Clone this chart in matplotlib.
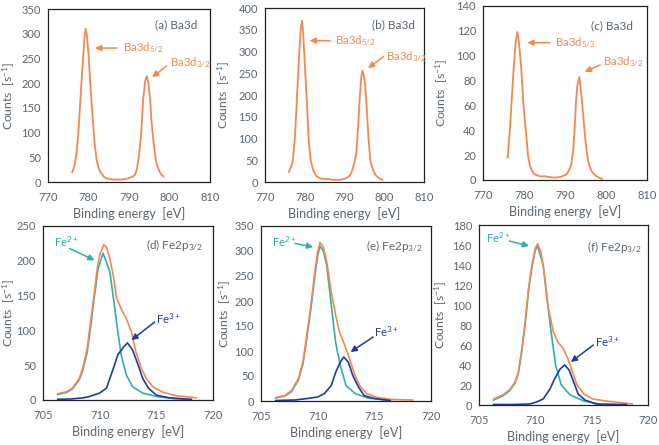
import matplotlib
matplotlib.use("Agg")
import matplotlib.pyplot as plt

plt.rcParams["font.family"] = ["Lato", "DejaVu Sans"]
plt.rcParams["mathtext.fontset"] = "custom"
plt.rcParams["mathtext.rm"] = "Lato"
plt.rcParams["mathtext.it"] = "Lato:italic"
plt.rcParams["mathtext.bf"] = "Lato:bold"

ORANGE = "#F5884F"
CYAN = "#2DB0B0"
BLUE = "#1F3AA6"
GREY = "#5A6670"

# --- Ba3d spectra (a), (b), (c)
ba_a_e = [776.0, 776.5, 777.0, 777.5, 778.0, 778.5, 779.0, 779.3, 779.6, 780.0, 780.5, 781.0,
          781.5, 782.0, 782.5, 783.0, 784.0, 785.0, 786.0, 787.0, 788.0, 789.0, 790.0, 791.0,
          791.5, 792.0, 792.5, 793.0, 793.5, 794.0, 794.4, 794.8, 795.2, 795.6, 796.0, 796.5,
          797.0, 797.5, 798.0, 798.5]
ba_a_c = [20, 32, 55, 100, 167, 232, 292, 310, 298, 258, 192, 132,
          80, 45, 28, 19, 9, 6, 5, 5, 5, 6, 8, 11,
          15, 28, 55, 99, 167, 205, 214, 200, 167, 118, 85, 50,
          32, 22, 15, 11]

ba_b_e = [776.0, 776.5, 777.0, 777.5, 778.0, 778.5, 779.0, 779.3, 779.6, 780.0, 780.5, 781.0,
          781.5, 782.0, 782.5, 783.0, 784.0, 785.0, 786.0, 787.0, 788.0, 789.0, 790.0, 791.0,
          791.5, 792.0, 792.5, 793.0, 793.5, 793.8, 794.2, 794.5, 794.8, 795.2, 795.6, 796.0,
          796.5, 797.0, 797.5, 798.0, 798.5, 799.0, 799.5]
ba_b_c = [23, 33, 50, 100, 185, 280, 352, 371, 345, 272, 189, 95,
          50, 30, 20, 13, 8, 7, 7, 5, 5, 5, 7, 12,
          17, 28, 45, 68, 140, 189, 240, 256, 248, 225, 170, 105,
          50, 32, 21, 14, 10, 7, 5]

ba_c_e = [776.0, 776.5, 777.0, 777.5, 778.0, 778.4, 778.8, 779.3, 779.8, 780.2, 780.5, 781.0,
          781.5, 782.0, 782.5, 783.0, 784.0, 785.0, 786.0, 787.0, 788.0, 789.0, 790.0, 790.5,
          791.0, 791.5, 792.0, 792.3, 792.7, 793.0, 793.5, 794.0, 794.5, 794.8, 795.2, 795.6,
          796.0, 796.5, 797.0, 797.5, 798.0, 798.5, 799.0]
ba_c_c = [18, 38, 64, 91, 112, 119, 110, 91, 64, 48, 38, 19,
          11, 7, 5, 4, 3, 3, 2.5, 2, 2, 2.5, 4, 5,
          8, 12, 24, 38, 64, 76, 83, 68, 50, 38, 25, 16,
          11, 7, 5, 3.5, 2.5, 1.5, 1]

# --- Fe2p3/2 spectra (d), (e), (f): total (orange), Fe2+ (cyan), Fe3+ (blue)
fe_d_tot_e = [706.3, 707.1, 707.6, 708.2, 708.5, 708.9, 709.2, 709.5, 709.8, 710.0, 710.35, 710.6,
              710.9, 711.2, 711.5, 711.9, 712.35, 712.8, 713.2, 713.7, 714.1, 714.7, 715.6, 716.8,
              718.1, 718.5]
fe_d_tot_c = [9, 12, 17, 31, 45, 74, 112, 150, 191, 208, 223, 220,
              203, 179, 146, 131, 117, 98, 69, 45, 31, 19, 11, 6,
              4, 3]
fe_d_2_e = [706.3, 707.1, 707.6, 708.2, 708.5, 708.9, 709.2, 709.5, 709.85, 710.3, 710.9, 711.3,
            711.6, 711.9, 712.35, 712.9, 713.8, 715.0, 716.5, 717.6]
fe_d_2_c = [8, 11, 16, 29, 42, 69, 105, 144, 188, 211, 184, 136,
            98, 65, 36, 19, 10, 5, 2, 1]
fe_d_3_e = [706.3, 707.5, 708.5, 709.1, 710.0, 710.6, 711.2, 711.6, 712.1, 712.45, 712.9, 713.4,
            713.8, 714.3, 715.0, 716.2, 718.1]
fe_d_3_c = [1, 1.5, 3, 5, 10, 17, 45, 65, 76, 82, 72, 50,
            31, 17, 7, 3, 1]

fe_e_tot_e = [706.3, 707.1, 707.7, 708.3, 708.7, 709.0, 709.4, 709.75, 710.0, 710.2, 710.5, 710.8,
              711.2, 711.6, 711.9, 712.4, 712.8, 713.3, 713.7, 714.3, 715.3, 716.5, 718.4]
fe_e_tot_c = [7, 11, 21, 45, 78, 125, 191, 258, 298, 317, 308, 278,
              218, 170, 140, 111, 85, 51, 31, 15, 7, 3, 2]
fe_e_2_e = [706.3, 707.1, 707.7, 708.3, 708.7, 709.0, 709.4, 709.75, 710.0, 710.2, 710.5, 710.8,
            711.2, 711.6, 712.0, 712.5, 713.3, 714.4, 716.4]
fe_e_2_c = [6, 10, 19, 42, 74, 119, 184, 250, 290, 310, 300, 271,
            192, 115, 71, 31, 15, 6, 1]
fe_e_3_e = [706.3, 708.0, 709.1, 710.0, 710.6, 711.2, 711.6, 712.0, 712.3, 712.7, 713.1, 713.6,
            714.1, 715.0, 716.4]
fe_e_3_c = [1, 2, 5, 8, 15, 31, 58, 78, 88, 78, 51, 28,
            11, 5, 1]

fe_f_tot_e = [706.3, 707.1, 707.7, 708.2, 708.5, 708.8, 709.1, 709.4, 709.7, 710.0, 710.2, 710.5,
              710.85, 711.1, 711.6, 712.0, 712.5, 712.9, 713.2, 713.7, 714.3, 715.1, 716.3, 718.6]
fe_f_tot_c = [6, 10, 15, 23, 33, 56, 83, 117, 140, 157, 161, 153,
              127, 100, 73, 63, 56, 46, 36, 20, 11, 6, 4, 1]
fe_f_2_e = [706.3, 707.1, 707.7, 708.2, 708.5, 708.8, 709.1, 709.4, 709.7, 710.0, 710.2, 710.7,
            711.0, 711.4, 711.8, 712.3, 713.1, 714.3, 715.7]
fe_f_2_c = [5, 9, 14, 22, 32, 54, 81, 115, 138, 155, 159, 140,
            110, 73, 40, 20, 10, 4, 1]
fe_f_3_e = [706.3, 708.0, 709.5, 710.1, 710.7, 711.3, 711.7, 712.2, 712.6, 713.0, 713.4, 713.8,
            714.4, 715.4, 718.1]
fe_f_3_c = [0.5, 0.5, 1, 3, 6, 16, 26, 36, 40, 35, 23, 11,
            5, 1, 0.5]

W, H = 659, 445
fig = plt.figure(figsize=(W / 100, H / 100), dpi=100)


def make_axes(x0, y0, x1, y1, ylab_x):
    ax = fig.add_axes([x0 / W, 1 - y1 / H, (x1 - x0) / W, (y1 - y0) / H])
    for s in ax.spines.values():
        s.set_color("#222222")
        s.set_linewidth(0.9)
    ax.tick_params(length=0, labelsize=8, labelcolor=GREY)
    ax.tick_params(axis="x", pad=7)
    ax.tick_params(axis="y", pad=5)
    ax.set_xlabel("Binding energy  [eV]", fontsize=9, color=GREY, labelpad=3)
    ax.set_ylabel("Counts  [s$^{-1}$]", fontsize=8.7, color=GREY)
    # ylabel anchor is its right edge (text bottom before rotation)
    ax.yaxis.set_label_coords((ylab_x - x0) / (x1 - x0), 0.5)
    return ax


def arrow(ax, text, xy, xytext, color, textpos=None, ha="left"):
    ax.annotate("", xy=xy, xytext=xytext,
                arrowprops=dict(arrowstyle="-|>", color=color, lw=1.1,
                                mutation_scale=9, shrinkA=0, shrinkB=0))
    if text:
        ax.text(textpos[0], textpos[1], text, color=color, fontsize=8.2,
                ha=ha, va="center")


# top row: Ba3d
ba_panels = [
    ((48, 9, 210, 182), 17, ba_a_e, ba_a_c, 350, "(a) Ba3d",
     (796.5, 318), (781.6, 271), (787.0, 271), (788.5, 271),
     (795.7, 212), (799.3, 235), (800.1, 242)),
    ((265, 8, 424, 182), 232, ba_b_e, ba_b_c, 400, "(b) Ba3d",
     (796.9, 361), (781.2, 325), (786.4, 325), (787.6, 325),
     (795.9, 262), (799.8, 288), (800.4, 288)),
    ((483, 6, 647, 180), 450, ba_c_e, ba_c_c, 140, "(c) Ba3d",
     (796.4, 124), (780.8, 110.5), (786.3, 110.5), (787.5, 110.5),
     (794.8, 87), (798.6, 92.6), (799.2, 95)),
]
for (box, ylx, xe, yc, ymax, title, tpos, h1, t1, p1, h2, t2, p2) in ba_panels:
    ax = make_axes(*box, ylx)
    ax.plot(xe, yc, color=ORANGE, lw=1.3)
    ax.set_xlim(770, 810)
    ax.set_ylim(0, ymax)
    ax.set_xticks(range(770, 811, 10))
    ax.set_yticks(range(0, ymax + 1, 50 if ymax > 200 else 20))
    ax.text(tpos[0], tpos[1], title, fontsize=8.5, color=GREY, va="center")
    arrow(ax, "Ba3d$_{5/2}$", h1, t1, ORANGE, p1)
    arrow(ax, "Ba3d$_{3/2}$", h2, t2, ORANGE, p2)

# bottom row: Fe2p3/2
fe_panels = [
    ((43, 226, 213, 400), 17, fe_d_tot_e, fe_d_tot_c, fe_d_2_e, fe_d_2_c, fe_d_3_e, fe_d_3_c,
     250, 50, "(d) Fe2p$_{3/2}$", (714.1, 222),
     (707.06, 227), (709.56, 200.8), (707.35, 217.5),
     (715.0, 117), (712.8, 86), (714.85, 112)),
    ((261, 226, 431, 401), 233, fe_e_tot_e, fe_e_tot_c, fe_e_2_e, fe_e_2_c, fe_e_3_e, fe_e_3_c,
     350, 50, "(e) Fe2p$_{3/2}$", (714.3, 310),
     (707.1, 318), (709.6, 308), (708.0, 315),
     (715.0, 138), (712.9, 98), (714.9, 128)),
    ((479, 225, 648, 405), 449, fe_f_tot_e, fe_f_tot_c, fe_f_2_e, fe_f_2_c, fe_f_3_e, fe_f_3_c,
     180, 20, "(f) Fe2p$_{3/2}$", (714.55, 158),
     (706.7, 167), (709.45, 159), (707.7, 164),
     (715.3, 63), (713.15, 43), (715.15, 60)),
]
for (box, ylx, te, tc, e2, c2, e3, c3, ymax, ystep, title, tpos,
     p2, h2, t2, p3, h3, t3) in fe_panels:
    ax = make_axes(*box, ylx)
    ax.plot(e2, c2, color=CYAN, lw=1.2)
    ax.plot(te, tc, color=ORANGE, lw=1.2)
    ax.plot(e3, c3, color=BLUE, lw=1.2)
    ax.set_xlim(705, 720)
    ax.set_ylim(0, ymax)
    ax.set_xticks(range(705, 721, 5))
    ax.set_yticks(range(0, ymax + 1, ystep))
    ax.text(tpos[0], tpos[1], title, fontsize=8.5, color=GREY, va="center")
    arrow(ax, "Fe$^{2+}$", h2, t2, CYAN, p2, ha="center")
    arrow(ax, "Fe$^{3+}$", h3, t3, BLUE, p3)

fig.savefig("out.png", dpi=100)
